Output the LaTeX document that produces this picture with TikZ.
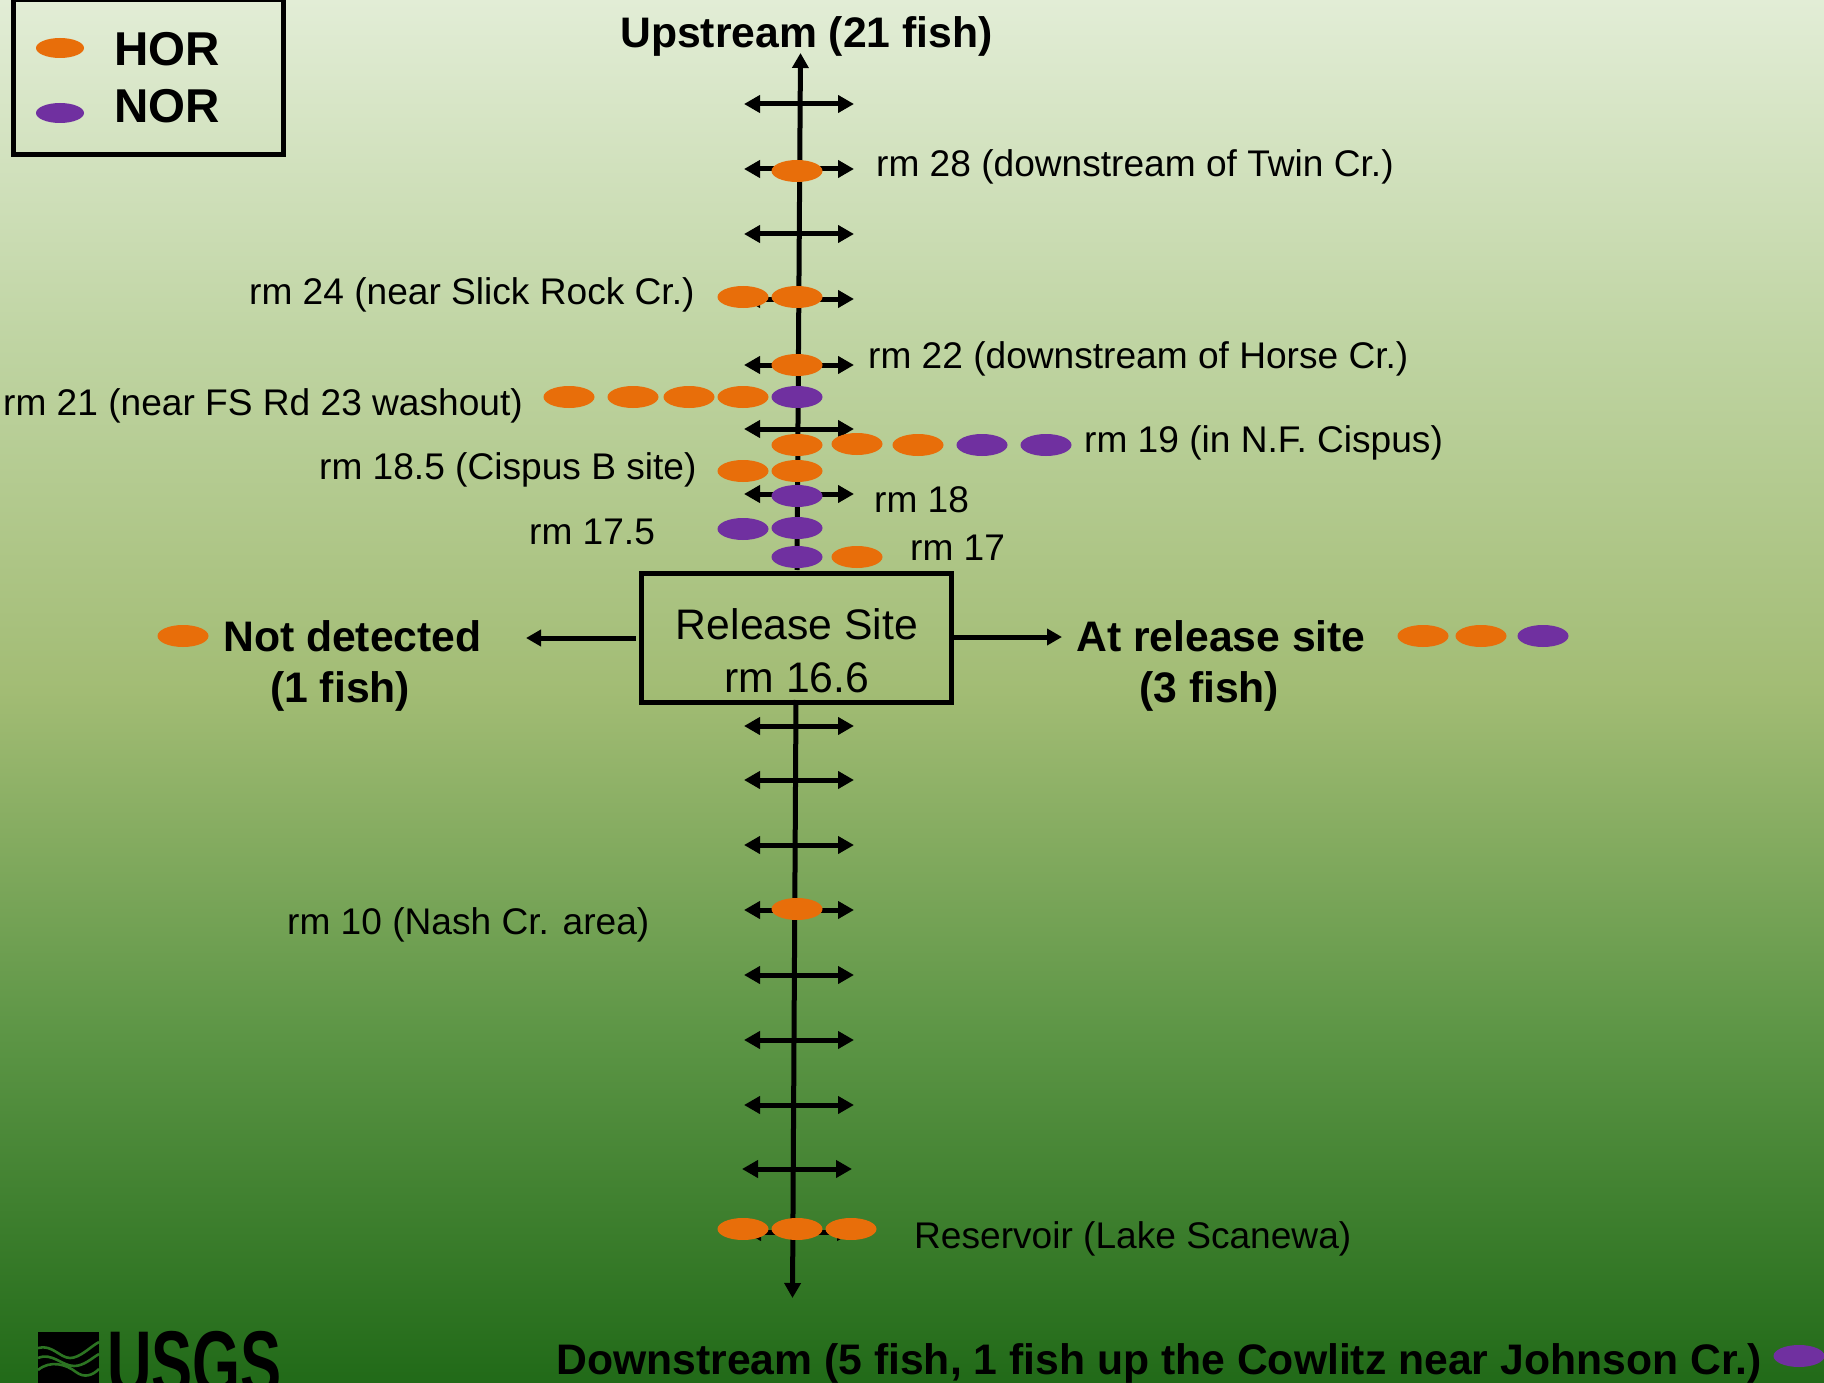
\documentclass[tikz,border=0pt]{standalone}
\usepackage{fontspec}
\setmainfont{Liberation Sans}
\usetikzlibrary{arrows.meta,shapes.geometric}
\definecolor{horc}{HTML}{E86E0A}
\definecolor{norc}{HTML}{7030A0}
\definecolor{bgA}{HTML}{E2EDD6}
\definecolor{bgB}{HTML}{BFD4A2}
\definecolor{bgC}{HTML}{A2BC74}
\definecolor{bgD}{HTML}{5C9545}
\definecolor{bgF}{HTML}{216A18}
\pgfdeclareverticalshading{bgshade}{100bp}{
  color(0bp)=(bgF); color(25bp)=(bgF);
  color(37.5bp)=(bgD); color(50bp)=(bgC); color(62.5bp)=(bgB);
  color(75bp)=(bgA); color(100bp)=(bgA)}
\tikzset{
  hor/.style={ellipse,fill=horc,minimum width=51pt,minimum height=22pt,inner sep=0pt},
  nor/.style={ellipse,fill=norc,minimum width=51pt,minimum height=22pt,inner sep=0pt},
  lab/.style={anchor=west,inner sep=0pt,text height=26pt,text depth=7.5pt,font=\fontsize{37.1}{40}\selectfont},
  blab/.style={anchor=west,inner sep=0pt,text height=30pt,text depth=9pt,font=\fontsize{42.7}{46}\selectfont\bfseries},
  tick/.style={line width=5pt,{Triangle[length=16pt,width=17pt]}-{Triangle[length=16pt,width=17pt]}},
  main/.style={line width=5pt,-{Triangle[length=15pt,width=16pt]}},
}
\begin{document}
\begin{tikzpicture}[x=1pt,y=-1pt]
\useasboundingbox (0,0) rectangle (1824,1383);
\clip (0,0) rectangle (1824,1383);
\shade[shading=bgshade] (0,0) rectangle (1824,1383);

% legend
\node[draw=black,line width=5pt,minimum width=270pt,minimum height=155pt,inner sep=0pt,anchor=north west] (legend) at (10.5,-2.5) {};
\node[hor,minimum width=48pt,minimum height=20pt] (lh) at (60,48) {};
\node[nor,minimum width=48pt,minimum height=20pt] (ln) at (60,113) {};
\node[anchor=west,inner sep=0pt,font=\fontsize{47.5}{52}\selectfont\bfseries] (lht) at (114,49) {HOR};
\node[anchor=west,inner sep=0pt,font=\fontsize{47.5}{52}\selectfont\bfseries] (lnt) at (114,106.5) {NOR};

% release box
\node[draw=black,line width=5pt,minimum width=310pt,minimum height=129pt,inner sep=0pt,anchor=north west] (rel) at (639,570.5) {};
\node[align=center,inner sep=0pt,font=\fontsize{42.7}{52.7}\selectfont] (relt) at (797,651) {Release Site\\rm 16.6};

% main stem
\coordinate (topend) at (800.5,53);
\coordinate (botend) at (792.5,1298);
\coordinate (nd) at (526,638);
\coordinate (ar) at (1062,637);
\coordinate (ndstart) at (636,638);
\draw[main] (797,570) -- (topend);
\draw[main] (796,700) -- (botend);
\draw[main] (ndstart) -- (nd);
\draw[main] (rel.east |- ar) -- (ar);

% cross ticks
\foreach \n/\a/\b/\y in {a/744/854/104,b/744/854/169,c/744/854/234,d/744/854/299,e/744/854/365,f/744/854/429,g/744/854/494,
  h/744/854/726,i/744/854/780,j/744/854/845,k/744/854/910,l/744/854/975,m/744/854/1040,n/744/854/1105,o/742/852/1169,p/745/853/1232}{
  \coordinate (tl\n) at (\a,\y);
  \coordinate (tr\n) at (\b,\y);
  \draw[tick] (tl\n) -- (tr\n);
}

% dots
\node[hor] (d1) at (797,171) {};
\node[hor] (d2) at (743,297) {};
\node[hor] (d3) at (797,297) {};
\node[hor] (d4) at (797,365) {};
\node[hor] (d5) at (569,397) {};
\node[hor] (d6) at (633,397) {};
\node[hor] (d7) at (689,397) {};
\node[hor] (d8) at (743,397) {};
\node[nor] (d9) at (797,397) {};
\node[hor] (d10) at (797,445) {};
\node[hor] (d11) at (857,444) {};
\node[hor] (d12) at (918,445) {};
\node[nor] (d13) at (982,445) {};
\node[nor] (d14) at (1046,445) {};
\node[hor] (d15) at (743,471) {};
\node[hor] (d16) at (797,471) {};
\node[nor] (d17) at (797,496) {};
\node[nor] (d18) at (743,529) {};
\node[nor] (d19) at (797,528) {};
\node[nor] (d20) at (797,557) {};
\node[hor] (d21) at (857,557) {};
\node[hor] (d22) at (183,636) {};
\node[hor] (d23) at (1423,636) {};
\node[hor] (d24) at (1481,636) {};
\node[nor] (d25) at (1543,636) {};
\node[hor] (d26) at (797,909) {};
\node[hor] (d27) at (743,1229) {};
\node[hor] (d28) at (797,1229) {};
\node[hor] (d29) at (851,1229) {};
\node[nor] (d30) at (1799,1356) {};

% labels
\node[lab] (t1) at (876,167) {rm 28 (downstream of Twin Cr.)};
\node[lab] (t2) at (249,295) {rm 24 (near Slick Rock Cr.)};
\node[lab] (t3) at (868,359) {rm 22 (downstream of Horse Cr.)};
\node[lab] (t4) at (3,406) {rm 21 (near FS Rd 23 washout)};
\node[lab] (t5) at (1084,443) {rm 19 (in N.F. Cispus)};
\node[lab] (t6) at (319,470) {rm 18.5 (Cispus B site)};
\node[lab] (t7) at (874,503) {rm 18};
\node[lab] (t8) at (529,535) {rm 17.5};
\node[lab] (t9) at (910,551) {rm 17};
\node[lab] (t10) at (287,925) {rm 10 (Nash Cr. area)};
\node[lab] (t11) at (914,1239) {Reservoir (Lake Scanewa)};

\node[blab] (b1) at (620,37) {Upstream (21 fish)};
\node[blab] (b2) at (556,1364) {Downstream (5 fish, 1 fish up the Cowlitz near Johnson Cr.)};
\node[blab] (b3) at (223,641) {Not detected};
\node[blab] (b4) at (270,692) {(1 fish)};
\node[blab] (b5) at (1076,641) {At release site};
\node[blab] (b6) at (1139,692) {(3 fish)};

% USGS logo
\fill[black] (38,1332) rectangle (99,1383);
\definecolor{wave}{HTML}{2C7422}
\draw[wave,line width=2.6pt] (38,1348) .. controls (52,1344) and (60,1358) .. (70,1358) .. controls (80,1358) and (90,1347) .. (99,1342);
\draw[wave,line width=2.6pt] (38,1358) .. controls (52,1352) and (62,1366) .. (74,1366) .. controls (84,1366) and (92,1358) .. (99,1354);
\draw[wave,line width=2.6pt] (38,1370) .. controls (50,1360) and (66,1364) .. (76,1372) .. controls (84,1378) and (92,1376) .. (99,1369);
\node[anchor=north west,inner sep=0pt] (usgs) at (107,1331) {\scalebox{0.67}[1]{\fontsize{92}{92}\selectfont\bfseries USGS}};
\end{tikzpicture}
\end{document}
